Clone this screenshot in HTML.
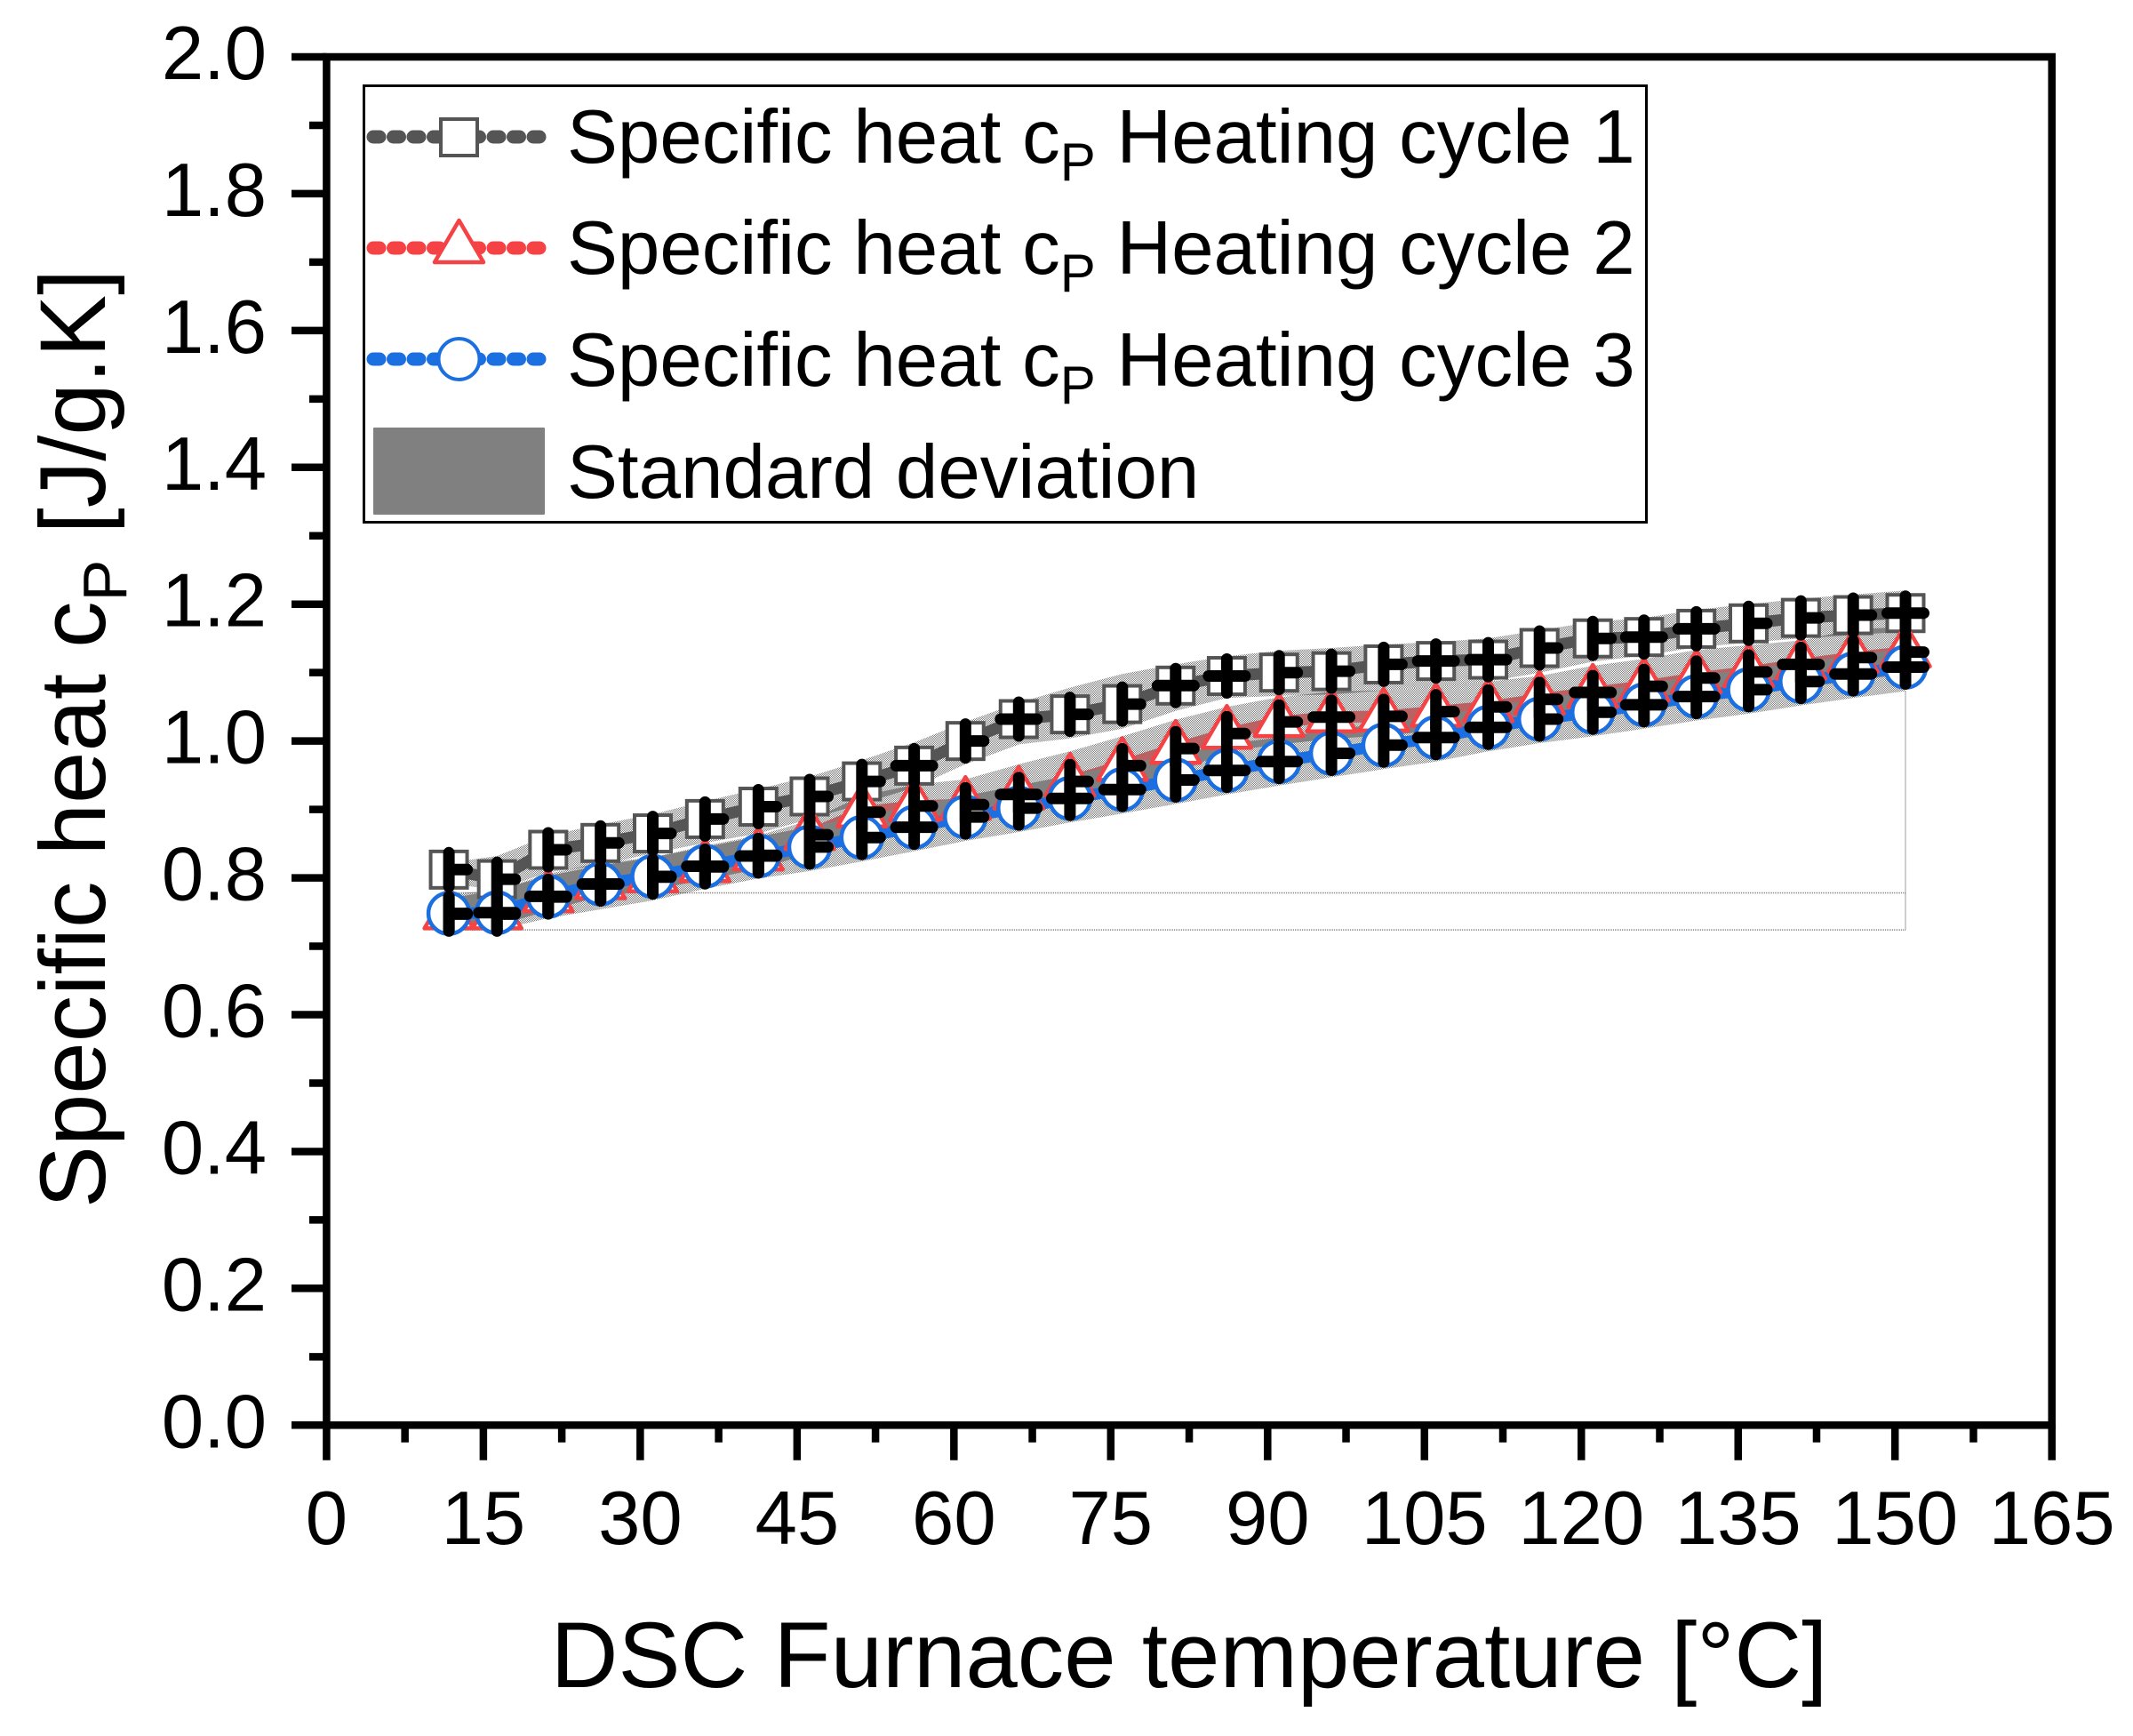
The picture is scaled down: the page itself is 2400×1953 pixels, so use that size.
<!DOCTYPE html>
<html lang="en">
<head>
<meta charset="utf-8">
<title>Specific heat vs DSC furnace temperature</title>
<style>
html,body{margin:0;padding:0;background:#fff;}
svg{display:block;}
text{font-family:"Liberation Sans",Arial,sans-serif;fill:#000;}
</style>
</head>
<body>
<svg id="chart" xmlns="http://www.w3.org/2000/svg" width="2400" height="1953" viewBox="0 0 2400 1953">
  <defs>
    <pattern id="ditherA" width="2" height="2" patternUnits="userSpaceOnUse">
      <rect x="0" y="0" width="1" height="1" fill="#808080" shape-rendering="crispEdges"/>
      <rect x="1" y="1" width="1" height="1" fill="#808080" shape-rendering="crispEdges"/>
    </pattern>
    <pattern id="ditherB" width="2" height="2" patternUnits="userSpaceOnUse">
      <rect x="1" y="0" width="1" height="1" fill="#808080" shape-rendering="crispEdges"/>
      <rect x="0" y="1" width="1" height="1" fill="#808080" shape-rendering="crispEdges"/>
    </pattern>
  </defs>
  <g id="plot"></g>
  <g id="axes"></g>
  <text x="1338" y="1898" font-size="105" text-anchor="middle">DSC Furnace temperature [°C]</text>
  <text transform="translate(118,831) rotate(-90)" font-size="105" text-anchor="middle">Specific heat c<tspan font-size="70" dy="24">P</tspan><tspan dy="-24">&#160;[J/g.K]</tspan></text>
  <g>
    <rect x="409.5" y="96.5" width="1451" height="491" fill="#fff" stroke="#000" stroke-width="3" id="legend-box"/>
    <g>
      <line x1="420" y1="154" x2="610" y2="154" stroke="#555555" stroke-width="15" stroke-linecap="round" stroke-dasharray="7 15.5"/>
      <rect x="496" y="134" width="41" height="41" fill="#fff" stroke="#555555" stroke-width="4"/>
      <text x="638" y="183" font-size="85.3">Specific heat c<tspan font-size="60" dy="20">P</tspan><tspan dy="-20">&#160;Heating cycle 1</tspan></text>
    </g>
    <g>
      <line x1="420" y1="279" x2="610" y2="279" stroke="#F44245" stroke-width="15" stroke-linecap="round" stroke-dasharray="7 15.5"/>
      <polygon points="516.5,248 489,295 544,295" fill="#fff" stroke="#F44245" stroke-width="4.5" stroke-linejoin="round"/>
      <text x="638" y="308" font-size="85.3">Specific heat c<tspan font-size="60" dy="20">P</tspan><tspan dy="-20">&#160;Heating cycle 2</tspan></text>
    </g>
    <g>
      <line x1="420" y1="404" x2="610" y2="404" stroke="#1B6FE0" stroke-width="15" stroke-linecap="round" stroke-dasharray="7 15.5"/>
      <circle cx="516.5" cy="404" r="23" fill="#fff" stroke="#1B6FE0" stroke-width="4"/>
      <text x="638" y="434" font-size="85.3">Specific heat c<tspan font-size="60" dy="20">P</tspan><tspan dy="-20">&#160;Heating cycle 3</tspan></text>
    </g>
    <g>
      <rect x="420" y="481" width="193" height="98" fill="#808080" rx="1"/>
      <text x="638" y="560" font-size="85.3">Standard deviation</text>
    </g>
  </g>
</svg>
<script>
const temperatures = [11.7,16.3,21.2,26.2,31.2,36.2,41.3,46.2,51.2,56.2,61.1,66.2,71.1,76.1,81.2,86.1,91.1,96.1,101.1,106.1,111.1,116,121.1,126,131,136,141,146,151];
const cycle1 = [.812,.798,.841,.851,.865,.886,.904,.919,.941,.964,1.000,1.032,1.039,1.054,1.081,1.095,1.100,1.102,1.112,1.117,1.119,1.136,1.150,1.152,1.164,1.172,1.180,1.184,1.187];
const cycle2 = [.747,.747,.772,.791,.801,.816,.833,.863,.896,.905,.907,.922,.941,.964,.989,1.011,1.028,1.035,1.036,1.043,1.050,1.061,1.071,1.080,1.092,1.101,1.112,1.122,1.130];
const cycle3 = [.748,.749,.773,.791,.802,.817,.832,.845,.859,.874,.889,.902,.916,.929,.943,.957,.970,.982,.994,1.005,1.020,1.032,1.042,1.053,1.065,1.075,1.087,1.098,1.108];
const band1Upper = [.822,.832,.862,.878,.893,.912,.930,.948,.972,.998,1.028,1.056,1.078,1.098,1.112,1.124,1.132,1.136,1.141,1.145,1.150,1.162,1.174,1.180,1.192,1.200,1.208,1.214,1.220];
const band1Lower = [.792,.782,.808,.819,.836,.851,.865,.886,.908,.932,.966,.995,1.004,1.018,1.044,1.063,1.066,1.068,1.074,1.080,1.087,1.100,1.116,1.125,1.137,1.144,1.150,1.155,1.160];
const band2Upper = [.770,.782,.806,.822,.830,.847,.862,.884,.920,.936,.944,.966,.985,1.007,1.031,1.050,1.064,1.072,1.074,1.080,1.087,1.095,1.110,1.120,1.133,1.140,1.147,1.163,1.167];
const band2Lower = [.728,.730,.752,.773,.783,.797,.813,.835,.865,.878,.885,.898,.912,.930,.952,.985,.995,1.003,1.008,1.015,1.022,1.032,1.042,1.050,1.058,1.068,1.078,1.088,1.098];
const band3Upper = [.776,.782,.803,.818,.830,.845,.860,.875,.890,.905,.920,.935,.950,.965,.980,.996,1.005,1.016,1.026,1.036,1.050,1.062,1.072,1.083,1.095,1.105,1.115,1.125,1.135];
const band3Lower = [.724,.724,.741,.754,.767,.784,.799,.810,.824,.839,.854,.867,.881,.894,.908,.922,.935,.947,.959,.970,.985,.997,1.007,1.018,1.030,1.040,1.052,1.063,1.073];
const plusBothArms1 = [0,0,0,0,0,0,0,0,0,1,0,1,0,0,1,1,0,0,0,1,1,0,0,1,1,0,0,0,1];
const plusBothArms2 = [0,0,0,0,0,0,0,0,0,0,0,1,0,0,0,0,0,1,0,0,0,0,1,0,0,0,1,0,0];
const plusBothArms3 = [0,1,1,1,0,1,1,0,0,1,0,0,1,1,0,1,1,0,0,1,1,0,0,1,1,0,0,1,1];
const outlineLevels = [0.778,0.724];
const xTickValues = [0,15,30,45,60,75,90,105,120,135,150,165];
const xMinorValues = [7.5,22.5,37.5,52.5,67.5,82.5,97.5,112.5,127.5,142.5,157.5];
const yTickValues = [0,0.2,0.4,0.6,0.8,1.0,1.2,1.4,1.6,1.8,2.0];
const yMinorValues = [0.1,0.3,0.5,0.7,0.9,1.1,1.3,1.5,1.7,1.9];

const NS = 'http://www.w3.org/2000/svg';
const X0 = 367.4, X1 = 2308.7, Y0 = 1603.3, Y1 = 64;
function sx(v){ return X0 + (v / 165) * (X1 - X0); }
function sy(v){ return Y0 + (v / 2) * (Y1 - Y0); }
function make(tag, attrs, parent){
  const el = document.createElementNS(NS, tag);
  for (const k in attrs) el.setAttribute(k, attrs[k]);
  parent.appendChild(el);
  return el;
}
document.getElementById('legend-box').setAttribute('width', '1443');
const plot = document.getElementById('plot');
const axes = document.getElementById('axes');
const GRAY = '#555555', RED = '#F44245', BLUE = '#1B6FE0';

function linePath(values){
  return temperatures.map(function(t, i){ return (i ? 'L' : 'M') + sx(t).toFixed(1) + ' ' + sy(values[i]).toFixed(1); }).join(' ');
}
function drawLine(values, color, name){
  const el = make('path', {d: linePath(values), fill: 'none', stroke: color, 'stroke-width': 13, 'stroke-linecap': 'round', 'stroke-linejoin': 'round'}, plot);
  
  
}
function drawBand(upper, lower, pattern, name){
  let d = linePath(upper);
  for (let i = temperatures.length - 1; i >= 0; i--) d += ' L' + sx(temperatures[i]).toFixed(1) + ' ' + sy(lower[i]).toFixed(1);
  const el = make('path', {d: d + ' Z', fill: 'url(#' + pattern + ')'}, plot);
  
  
}

// thin band outline
outlineLevels.forEach(function(level){
  const el = make('line', {x1: sx(temperatures[0]), y1: sy(level), x2: sx(temperatures[temperatures.length - 1]), y2: sy(level), stroke: '#808080', 'stroke-width': 1.5, 'stroke-dasharray': '1 1'}, plot);
  
  
});
const lastT = temperatures[temperatures.length - 1];
const outlineV = make('line', {x1: sx(lastT), y1: sy(band3Lower[band3Lower.length - 1]), x2: sx(lastT), y2: sy(outlineLevels[1]), stroke: '#808080', 'stroke-width': 1.5, 'stroke-dasharray': '1 1'}, plot);



drawLine(cycle2, RED, 'line-cycle-2');
drawBand(band1Upper, band1Lower, 'ditherA', 'std-band-cycle-1');
drawBand(band2Upper, band2Lower, 'ditherB', 'std-band-cycle-2');
drawBand(band3Upper, band3Lower, 'ditherA', 'std-band-cycle-3');
drawLine(cycle1, GRAY, 'line-cycle-1');
drawLine(cycle3, BLUE, 'line-cycle-3');

temperatures.forEach(function(t, i){
  const x = sx(t), y = sy(cycle1[i]);
  const m = make('rect', {x: x - 20.5, y: y - 20.5, width: 41, height: 41, fill: '#fff', stroke: GRAY, 'stroke-width': 4}, plot);
  
  
});
temperatures.forEach(function(t, i){
  const x = sx(t), y = sy(cycle2[i]);
  const pts = [x, y - 31, x - 27.5, y + 16, x + 27.5, y + 16].map(function(n){ return n.toFixed(1); });
  const m = make('polygon', {points: pts[0] + ',' + pts[1] + ' ' + pts[2] + ',' + pts[3] + ' ' + pts[4] + ',' + pts[5], fill: '#fff', stroke: RED, 'stroke-width': 4.5, 'stroke-linejoin': 'round'}, plot);
  
  
});
temperatures.forEach(function(t, i){
  const m = make('circle', {cx: sx(t), cy: sy(cycle3[i]), r: 23, fill: '#fff', stroke: BLUE, 'stroke-width': 4.5}, plot);
  
  
});

function drawPlus(values, both, name){
  temperatures.forEach(function(t, i){
    const x = sx(t), y = sy(values[i]);
    const d = 'M' + x.toFixed(1) + ' ' + (y - 19).toFixed(1) + ' V' + (y + 19).toFixed(1) +
              ' M' + (both[i] ? (x - 20.5) : x).toFixed(1) + ' ' + y.toFixed(1) + ' H' + (x + 20.5).toFixed(1);
    const p = make('path', {d: d, fill: 'none', stroke: '#000', 'stroke-width': 13, 'stroke-linecap': 'round'}, plot);
    
    
  });
}
drawPlus(cycle1, plusBothArms1, 'plus-cycle-1');
drawPlus(cycle2, plusBothArms2, 'plus-cycle-2');
drawPlus(cycle3, plusBothArms3, 'plus-cycle-3');

// axes frame
const frame = make('rect', {x: X0, y: Y1, width: X1 - X0, height: Y0 - Y1, fill: 'none', stroke: '#000', 'stroke-width': 8.5}, axes);



xTickValues.forEach(function(v){
  const t = make('line', {x1: sx(v), y1: Y0, x2: sx(v), y2: 1642.7, stroke: '#000', 'stroke-width': 8.5}, axes);
  
  
  const l = make('text', {x: sx(v), y: 1737, 'font-size': 85, 'text-anchor': 'middle'}, axes);
  l.textContent = String(v);
  
  
});
xMinorValues.forEach(function(v){
  const t = make('line', {x1: sx(v), y1: Y0, x2: sx(v), y2: 1622.7, stroke: '#000', 'stroke-width': 8.5}, axes);
  
  
});
yTickValues.forEach(function(v){
  const t = make('line', {x1: 328, y1: sy(v), x2: X0, y2: sy(v), stroke: '#000', 'stroke-width': 8.5}, axes);
  
  
  const l = make('text', {x: 300, y: sy(v) + 25, 'font-size': 85, 'text-anchor': 'end'}, axes);
  l.textContent = v.toFixed(1);
  
  
});
yMinorValues.forEach(function(v){
  const t = make('line', {x1: 348, y1: sy(v), x2: X0, y2: sy(v), stroke: '#000', 'stroke-width': 8.5}, axes);
  
  
});
</script>
</body>
</html>
